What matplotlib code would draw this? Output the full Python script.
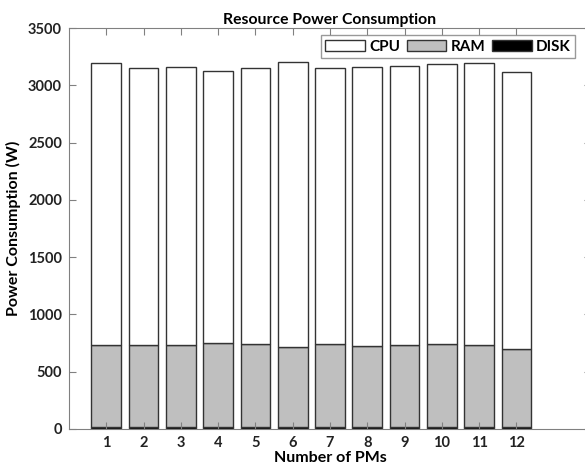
from matplotlib import pyplot as plt
import numpy as np

plt.rcParams['font.family'] = ['Lato', 'DejaVu Sans']
plt.rcParams['font.weight'] = 'bold'

# values (W)
pms = np.arange(1, 13)
disk = [15, 15, 15, 15, 15, 15, 15, 15, 15, 15, 15, 15]
ram = [717, 717, 717, 732, 723, 703, 723, 709, 717, 723, 720, 685]
cpu = [2461, 2418, 2430, 2377, 2415, 2488, 2409, 2435, 2433, 2447, 2456, 2412]

fig = plt.figure(figsize=(5.85, 4.7), dpi=100)
ax = fig.add_axes([69/585, 41/470, 522/585, 401/470])

edge = '#333333'
b_disk = ax.bar(pms, disk, 0.8, color='black', edgecolor=edge, linewidth=1, label='DISK')
b_ram = ax.bar(pms, ram, 0.8, bottom=disk, color='#bfbfbf', edgecolor=edge, linewidth=1, label='RAM')
b_cpu = ax.bar(pms, cpu, 0.8, bottom=np.add(disk, ram), color='white', edgecolor=edge, linewidth=1, label='CPU')

ax.set_xlim(0, 14)
ax.set_ylim(0, 3500)
ax.set_xticks(pms)
ax.set_yticks(np.arange(0, 3501, 500))
ax.tick_params(direction='in', length=5, top=True, right=True, labelsize=10.5, colors='#222222', pad=5)
ax.tick_params(axis='both', color='#808080')
for s in ax.spines.values():
    s.set_color('#808080')

ax.set_title('Resource Power Consumption', fontsize=11.3, fontweight='bold', pad=3)
ax.set_xlabel('Number of PMs', fontsize=11.5, fontweight='bold', labelpad=1)
ax.set_ylabel('Power Consumption (W)', fontsize=11.5, fontweight='bold', labelpad=5)

leg = ax.legend([b_cpu, b_ram, b_disk], ['CPU', 'RAM', 'DISK'], ncol=3, loc='upper right',
                bbox_to_anchor=(0.969, 0.9825), fancybox=False, edgecolor='#808080',
                fontsize=11, handlelength=2.6, handleheight=0.7, handletextpad=0.25,
                columnspacing=0.45, borderpad=0.3, borderaxespad=0)
leg.get_frame().set_linewidth(1)

plt.savefig('out.png', dpi=100)
